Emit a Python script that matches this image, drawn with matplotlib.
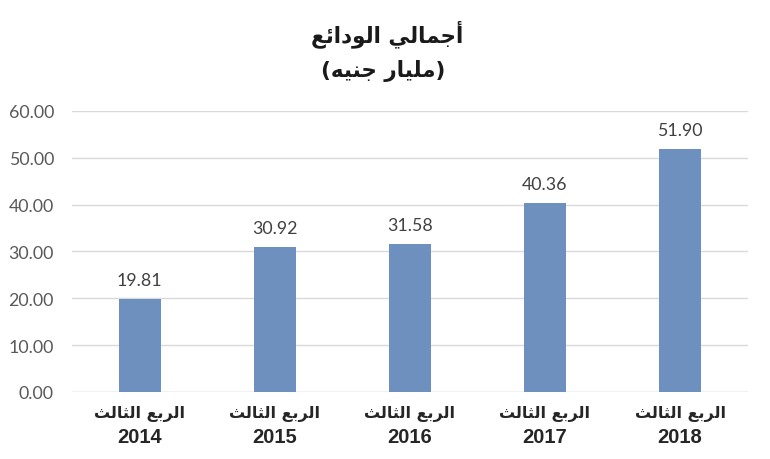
import matplotlib
matplotlib.use("Agg")
import matplotlib.pyplot as plt
from matplotlib.transforms import blended_transform_factory

# ---- data ----
quarter_label = "الربع الثالث"
years = ["2014", "2015", "2016", "2017", "2018"]
values = [19.81, 30.92, 31.58, 40.36, 51.90]
title_line1 = "أجمالي الودائع"
title_line2 = "(مليار جنيه)"
yticks = [0, 10, 20, 30, 40, 50, 60]

# ---- minimal Arabic shaping (logical -> visual presentation forms) ----
FORMS = {
    "ا": (0xFE8D, 0xFE8E, None, None),
    "أ": (0xFE83, 0xFE84, None, None),
    "د": (0xFEA9, 0xFEAA, None, None),
    "ر": (0xFEAD, 0xFEAE, None, None),
    "و": (0xFEED, 0xFEEE, None, None),
    "ج": (0xFE9D, 0xFE9E, 0xFE9F, 0xFEA0),
    "م": (0xFEE1, 0xFEE2, 0xFEE3, 0xFEE4),
    "ل": (0xFEDD, 0xFEDE, 0xFEDF, 0xFEE0),
    "ي": (0xFEF1, 0xFEF2, 0xFEF3, 0xFEF4),
    "ئ": (0xFE89, 0xFE8A, 0xFE8B, 0xFE8C),
    "ع": (0xFEC9, 0xFECA, 0xFECB, 0xFECC),
    "ب": (0xFE8F, 0xFE90, 0xFE91, 0xFE92),
    "ث": (0xFE99, 0xFE9A, 0xFE9B, 0xFE9C),
    "ن": (0xFEE5, 0xFEE6, 0xFEE7, 0xFEE8),
    "ه": (0xFEE9, 0xFEEA, 0xFEEB, 0xFEEC),
}


def shape(text):
    out = []
    n = len(text)
    for i, ch in enumerate(text):
        if ch not in FORMS:
            out.append(ch)
            continue
        iso, fin, ini, med = FORMS[ch]
        prev = text[i - 1] if i > 0 else None
        nxt = text[i + 1] if i < n - 1 else None
        join_prev = prev in FORMS and FORMS[prev][2] is not None
        join_next = nxt in FORMS and ini is not None
        if join_prev and join_next:
            cp = med
        elif join_prev:
            cp = fin
        elif join_next:
            cp = ini
        else:
            cp = iso
        out.append(chr(cp))
    vis = "".join(reversed(out))
    mirror = {"(": ")", ")": "("}
    return "".join(mirror.get(c, c) for c in vis)


BAR = "#6d90bf"
GRID = "#d9d9d9"

fig = plt.figure(figsize=(7.7, 4.6), dpi=100)
ax = fig.add_axes([0.0935, 0.1457, 0.8775, 0.611])

x = list(range(len(values)))
ax.bar(x, values, width=0.31, color=BAR, zorder=3)

ax.set_xlim(-0.5, len(values) - 0.5)
ax.set_ylim(0, 60)
ax.set_yticks(yticks)
ax.set_yticklabels([f"{v:.2f}" for v in yticks], fontsize=12.8,
                   color="#595959", family="Lato")
ax.tick_params(axis="y", length=0, pad=13)
ax.tick_params(axis="x", length=0, labelbottom=False)
ax.grid(axis="y", color=GRID, linewidth=1.0, zorder=0)
for s in ax.spines.values():
    s.set_visible(False)
ax.axhline(0, color=GRID, linewidth=1.0, zorder=2)

for xi, v in zip(x, values):
    ax.text(xi, v + 2.4, f"{v:.2f}", ha="center", va="bottom",
            fontsize=12.8, color="#404040", family="Lato")

tr = blended_transform_factory(ax.transData, ax.transAxes)
for xi, yr in zip(x, years):
    ax.text(xi, -0.045, shape(quarter_label), transform=tr, ha="center",
            va="top", fontsize=11.5, fontweight="bold", color="#262626",
            family="DejaVu Sans")
    ax.text(xi, -0.125, yr, transform=tr, ha="center", va="top",
            fontsize=14.5, fontweight="bold", color="#262626",
            family="Liberation Sans")

fig.text(0.503, 0.926, shape(title_line1), ha="center", va="center",
         fontsize=15.5, fontweight="bold", color="#1a1a1a", family="DejaVu Sans")
fig.text(0.497, 0.846, shape(title_line2), ha="center", va="center",
         fontsize=15.5, fontweight="bold", color="#1a1a1a", family="DejaVu Sans")

fig.savefig("out.png", dpi=100, facecolor="white")
